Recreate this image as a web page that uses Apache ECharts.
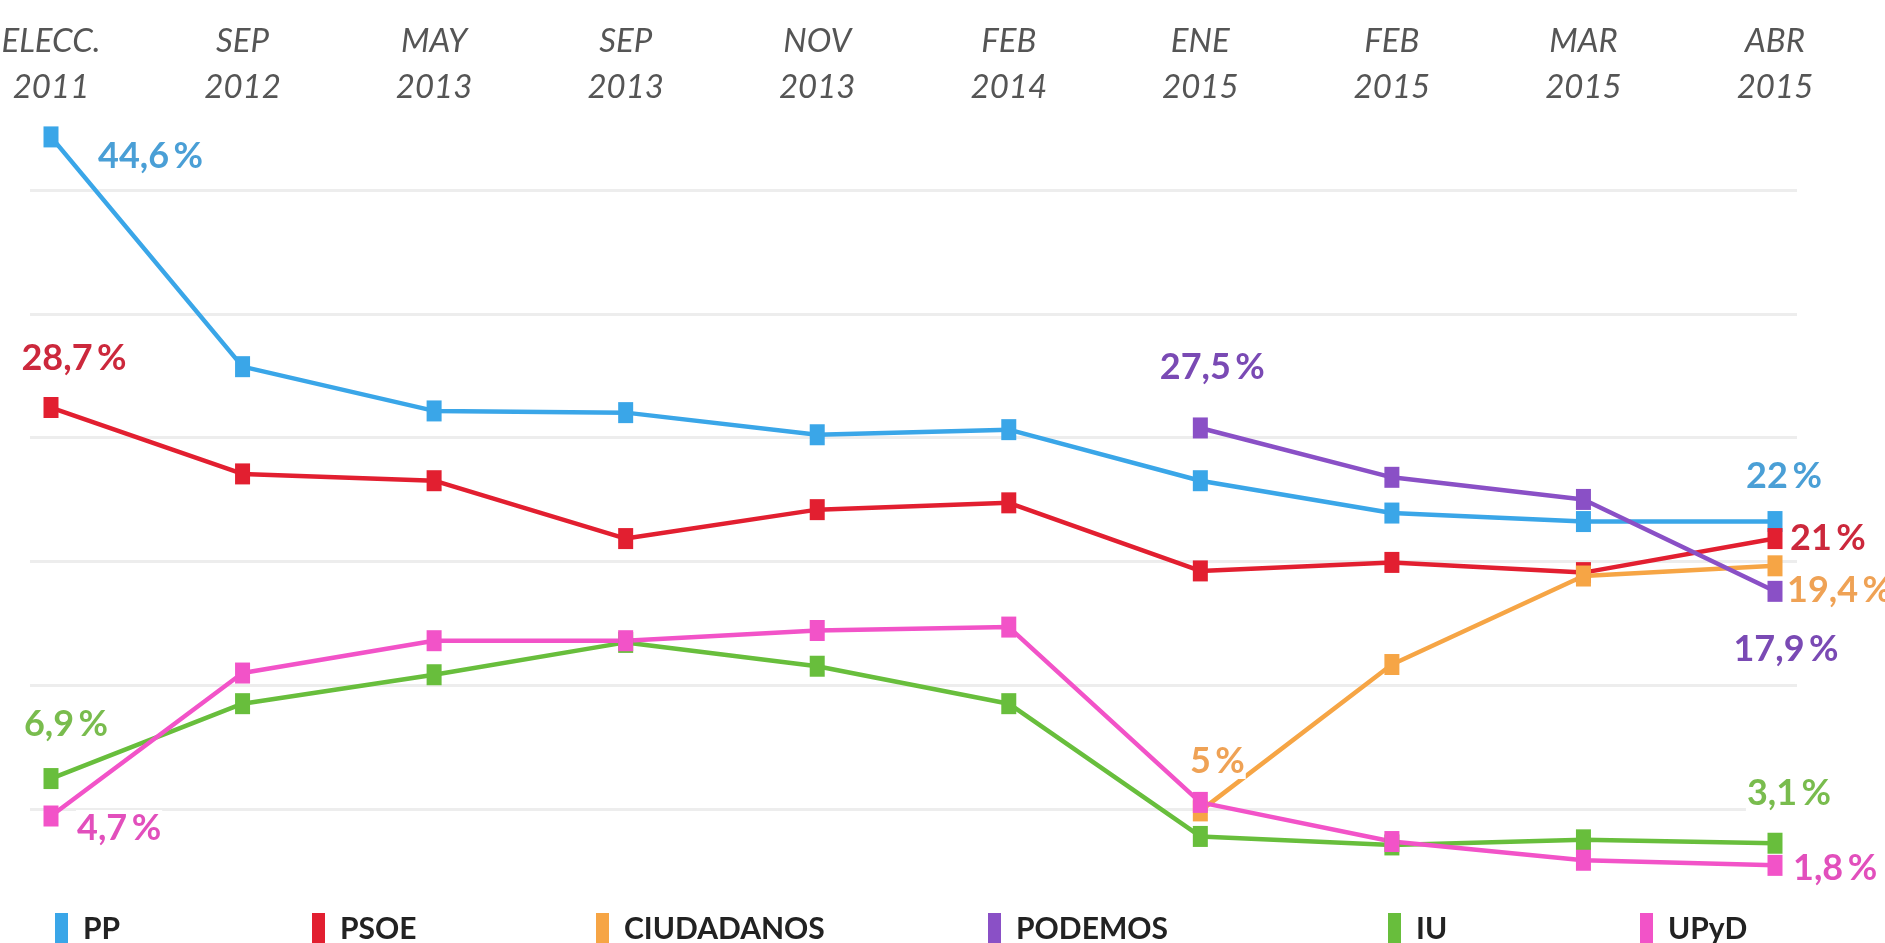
<!DOCTYPE html>
<html>
<head>
    <meta charset="utf-8">
    <title>Encuestas</title>
    <script src="https://cdn.jsdelivr.net/npm/echarts@6/dist/echarts.min.js"></script>
    <style>
        html, body { margin: 0; padding: 0; background: #fff; }
        #main { width: 1885px; height: 943px; }
    </style>
</head>
<body>
<div id="main"></div>
<script type="text/javascript">
    // datos ------------------------------------------------
    var categories = ['ELECC.\n2011', 'SEP\n2012', 'MAY\n2013', 'SEP\n2013', 'NOV\n2013',
                      'FEB\n2014', 'ENE\n2015', 'FEB\n2015', 'MAR\n2015', 'ABR\n2015'];
    var pp         = [44.6, 31.1, 28.5, 28.4, 27.1, 27.4, 24.4, 22.5, 22.0, 22];
    var psoe       = [28.7, 24.8, 24.4, 21.0, 22.7, 23.1, 19.1, 19.6, 19.0, 21];
    var ciudadanos = [null, null, null, null, null, null, 5, 13.6, 18.8, 19.4];
    var podemos    = [null, null, null, null, null, null, 27.5, 24.6, 23.3, 17.9];
    var iu         = [6.9, 11.3, 13.0, 14.9, 13.5, 11.3, 3.5, 3.0, 3.3, 3.1];
    var upyd       = [4.7, 13.1, 15.0, 15.0, 15.6, 15.8, 5.5, 3.2, 2.1, 1.8];

    var FONT = "Lato, 'Noto Sans', sans-serif";

    // etiquetas de valor: punto, desplazamiento y alineación
    var labelSpots = {
        'PP':         [{i: 0, dx: 46, dy: 19, align: 'left'}, {i: 9, dx: 9, dy: -45, align: 'center'}],
        'PSOE':       [{i: 0, dx: 23, dy: -49, align: 'center'}, {i: 9, dx: 14, dy: 0, align: 'left'}],
        'CIUDADANOS': [{i: 6, dx: 17, dy: -50, align: 'center'}, {i: 9, dx: 11, dy: 25, align: 'left'}],
        'PODEMOS':    [{i: 6, dx: 12, dy: -61, align: 'center'}, {i: 9, dx: 11, dy: 58, align: 'center'}],
        'IU':         [{i: 0, dx: 15, dy: -54, align: 'center'}, {i: 9, dx: 14, dy: -50, align: 'center'}],
        'UPyD':       [{i: 0, dx: 25, dy: 12, align: 'left'}, {i: 9, dx: 17, dy: 3, align: 'left'}]
    };

    var parties = [
        {name: 'PP',         data: pp,         color: '#3AA6E8', text: '#4A9FD6'},
        {name: 'PSOE',       data: psoe,       color: '#E21F30', text: '#CC283C'},
        {name: 'CIUDADANOS', data: ciudadanos, color: '#F6A545', text: '#EFA255'},
        {name: 'PODEMOS',    data: podemos,    color: '#8A50C6', text: '#7A4AB4'},
        {name: 'IU',         data: iu,         color: '#68BE3C', text: '#79BC4E'},
        {name: 'UPyD',       data: upyd,       color: '#F253C8', text: '#E24FBC'}
    ];
    var legendLeft = [50, 307, 591, 983, 1383, 1635];

    function fmt(p) {
        return String(p.value).replace('.', ',') + '\u2009%';
    }

    var series = parties.map(function (party) {
        var spots = labelSpots[party.name];
        var data = party.data.map(function (v, i) {
            var s = spots.filter(function (d) { return d.i === i; })[0];
            if (!s || v === null) return v;
            return {
                value: v,
                label: {
                    show: true,
                    position: 'inside',
                    align: s.align,
                    verticalAlign: 'middle',
                    offset: [s.dx, s.dy],
                    formatter: fmt,
                    color: party.text,
                    fontFamily: FONT,
                    fontWeight: 'bold',
                    fontSize: 36,
                    backgroundColor: '#fff',
                    padding: [0, 1]
                }
            };
        });
        return {
            name: party.name,
            type: 'line',
            xAxisIndex: 0,
            yAxisIndex: 0,
            data: data,
            symbol: 'rect',
            symbolSize: [15, 21],
            showAllSymbol: true,
            connectNulls: false,
            itemStyle: {color: party.color},
            lineStyle: {color: party.color, width: 4.5},
            emphasis: {disabled: true},
            label: {show: false}
        };
    });

    var legends = parties.map(function (party, k) {
        return {
            data: [party.name],
            left: legendLeft[k],
            top: 908,
            icon: 'rect',
            itemWidth: 13,
            itemHeight: 32,
            selectedMode: false,
            textStyle: {
                color: '#222',
                fontFamily: FONT,
                fontWeight: 'bold',
                fontSize: 30,
                padding: [16, 0, 0, 10]
            }
        };
    });

    var myChart = echarts.init(document.getElementById('main'));

    var option = {
        animation: false,
        backgroundColor: '#fff',
        legend: legends,
        grid: [
            {left: 51, right: 110, top: 45, bottom: 47, outerBoundsMode: 'none'},   // series
            {left: 30, right: 88, top: 190, bottom: 134, outerBoundsMode: 'none'}   // líneas de fondo
        ],
        xAxis: [
            {
                type: 'category',
                gridIndex: 0,
                position: 'top',
                offset: -65,
                boundaryGap: false,
                data: categories,
                axisLine: {show: false},
                axisTick: {show: false},
                splitLine: {show: false},
                axisLabel: {
                    margin: 0,
                    color: '#555',
                    fontFamily: FONT,
                    fontStyle: 'italic',
                    fontSize: 33,
                    lineHeight: 46
                }
            },
            {type: 'value', gridIndex: 1, min: 0, max: 1, show: false}
        ],
        yAxis: [
            {type: 'value', gridIndex: 0, min: 0, max: 50, show: false},
            {
                type: 'value', gridIndex: 1, min: 0, max: 5, interval: 1,
                axisLine: {show: false}, axisTick: {show: false}, axisLabel: {show: false},
                splitLine: {lineStyle: {color: '#EDEDED', width: 3}}
            }
        ],
        series: series
    };
    myChart.setOption(option);
</script>
</body>
</html>
